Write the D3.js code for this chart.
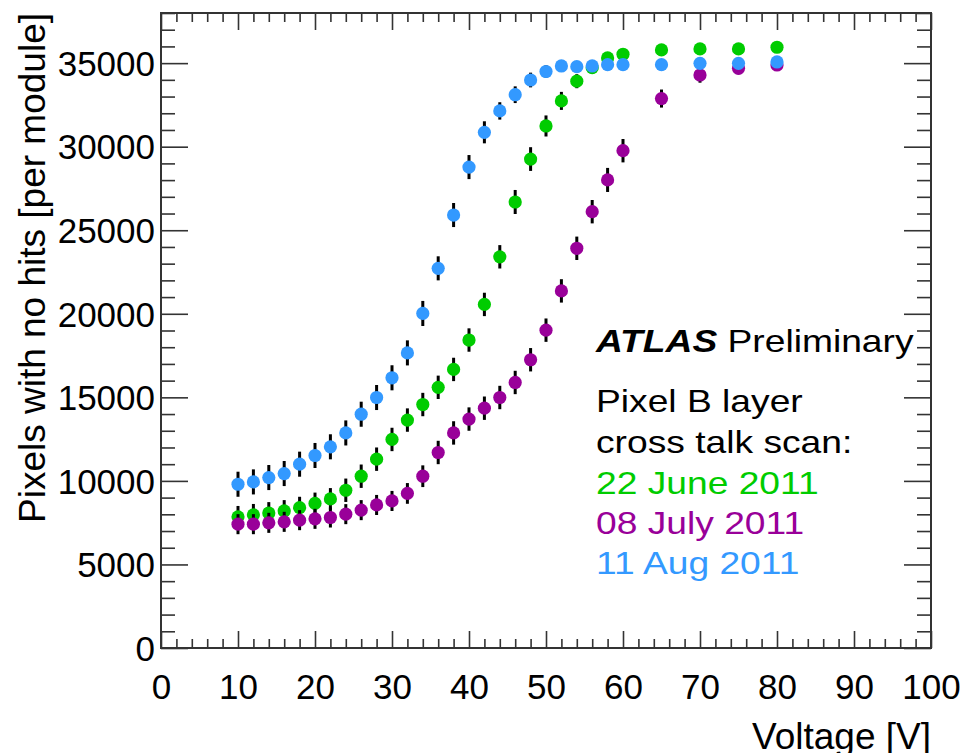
<!DOCTYPE html>
<html>
<head>
<meta charset="utf-8">
<script src="https://cdn.jsdelivr.net/npm/d3@7"></script>
<style>
  body { margin: 0; background: #fff; }
  svg { display: block; font-family: "Liberation Sans", Arial, sans-serif; }
</style>
</head>
<body>
<svg id="chart"></svg>
<script>
// voltages of the scan points
var voltages = [10, 12, 14, 16, 18, 20, 22, 24, 26, 28, 30, 32, 34, 36, 38, 40, 42, 44, 46, 48, 50, 52, 54, 56, 58, 60, 65, 70, 75, 80];

// 22 June 2011
var june = [7850, 7970, 8080, 8200, 8400, 8650, 8920, 9440, 10280, 11300, 12480, 13640, 14570, 15600, 16670, 18430, 20560, 23410, 26690, 29260, 31240, 32740, 33920, 34730, 35310, 35530, 35790, 35850, 35850, 35950];
var juneErr = [650, 650, 650, 650, 650, 650, 650, 700, 700, 700, 700, 700, 700, 700, 700, 700, 700, 700, 720, 710, 630, 540, 420, 350, 300, 300, 300, 300, 300, 300];

// 08 July 2011
var july = [7410, 7410, 7490, 7550, 7650, 7730, 7810, 8010, 8250, 8560, 8800, 9250, 10280, 11700, 12870, 13700, 14350, 14990, 15890, 17250, 19020, 21370, 23920, 26110, 28010, 29760, 32880, 34290, 34690, 34890];
var julyErr = [600, 600, 600, 600, 600, 600, 600, 600, 600, 600, 600, 620, 650, 700, 700, 700, 700, 700, 700, 700, 700, 700, 700, 700, 720, 700, 540, 460, 350, 300];

// 11 Aug 2011
var aug = [9800, 9940, 10200, 10440, 11000, 11520, 12040, 12870, 13990, 14990, 16170, 17660, 20020, 22720, 25910, 28780, 30860, 32140, 33110, 33990, 34500, 34830, 34790, 34830, 34910, 34910, 34910, 34990, 34990, 35070];
var augErr = [750, 750, 750, 750, 750, 750, 750, 750, 750, 750, 750, 750, 750, 720, 720, 720, 660, 520, 500, 440, 380, 300, 300, 300, 300, 300, 300, 300, 300, 300];

var seriesNames = ["22 June 2011", "08 July 2011", "11 Aug 2011"];
var seriesColors = ["#00cc00", "#990099", "#3399ff"];

var xMajor = [0, 10, 20, 30, 40, 50, 60, 70, 80, 90, 100];
var yMajor = [0, 5000, 10000, 15000, 20000, 25000, 30000, 35000];

var W = 966, H = 753;
var frame = { left: 161, right: 931, top: 13, bottom: 648 };

var svg = d3.select("#chart").attr("width", W).attr("height", H);

var x = d3.scaleLinear().domain([0, 100]).range([frame.left, frame.right]);
var y = d3.scaleLinear().domain([0, 38000]).range([frame.bottom, frame.top]);

var xMinor = d3.range(0, 101, 2).filter(function (d) { return d % 10 !== 0; });
var yMinor = d3.range(0, 38001, 1000).filter(function (d) { return d % 5000 !== 0; });

var tickColor = "#333";

function styleAxis(g) {
	g.select(".domain").remove();
	g.selectAll(".tick line").attr("stroke", tickColor).attr("stroke-width", 1.6);
	g.selectAll("text").attr("fill", "#000").attr("font-size", 35)
		.attr("font-family", "Liberation Sans, Arial, sans-serif");
}

// bottom axis (ticks inward)
svg.append("g").attr("transform", "translate(0," + frame.bottom + ")")
	.call(d3.axisBottom(x).tickValues(xMajor).tickSize(-17).tickPadding(26).tickFormat(d3.format("d")))
	.call(styleAxis);
svg.append("g").attr("transform", "translate(0," + frame.bottom + ")")
	.call(d3.axisBottom(x).tickValues(xMinor).tickSize(-9).tickFormat(""))
	.call(styleAxis);
// top axis
svg.append("g").attr("transform", "translate(0," + frame.top + ")")
	.call(d3.axisTop(x).tickValues(xMajor).tickSize(-17).tickFormat(""))
	.call(styleAxis);
svg.append("g").attr("transform", "translate(0," + frame.top + ")")
	.call(d3.axisTop(x).tickValues(xMinor).tickSize(-9).tickFormat(""))
	.call(styleAxis);
// left axis
svg.append("g").attr("transform", "translate(" + frame.left + ",0)")
	.call(d3.axisLeft(y).tickValues(yMajor).tickSize(-27).tickFormat(d3.format("d")))
	.call(styleAxis)
	.selectAll("text").attr("x", -6).attr("dy", "0.35em");
svg.append("g").attr("transform", "translate(" + frame.left + ",0)")
	.call(d3.axisLeft(y).tickValues(yMinor).tickSize(-14).tickFormat(""))
	.call(styleAxis);
// right axis
svg.append("g").attr("transform", "translate(" + frame.right + ",0)")
	.call(d3.axisRight(y).tickValues(yMajor).tickSize(-27).tickFormat(""))
	.call(styleAxis);
svg.append("g").attr("transform", "translate(" + frame.right + ",0)")
	.call(d3.axisRight(y).tickValues(yMinor).tickSize(-14).tickFormat(""))
	.call(styleAxis);

// frame
svg.append("rect")
	.attr("x", frame.left).attr("y", frame.top)
	.attr("width", frame.right - frame.left).attr("height", frame.bottom - frame.top)
	.attr("fill", "none").attr("stroke", tickColor).attr("stroke-width", 2);

// data: error bars then markers, one series after another
var allSeries = [june, july, aug];
var allErrs = [juneErr, julyErr, augErr];

allSeries.forEach(function (vals, s) {
	var pts = voltages.map(function (v, i) {
		return { v: v, n: vals[i], e: allErrs[s][i] };
	});
	var g = svg.append("g").attr("class", "series");
	g.selectAll(".err")
		.data(pts)
		.enter().append("line")
		.attr("class", "err")
		.attr("x1", function (d) { return x(d.v); })
		.attr("x2", function (d) { return x(d.v); })
		.attr("y1", function (d) { return y(d.n - d.e); })
		.attr("y2", function (d) { return y(d.n + d.e); })
		.attr("stroke", "#000")
		.attr("stroke-width", 3);
	g.selectAll(".dot")
		.data(pts)
		.enter().append("circle")
		.attr("class", "dot")
		.attr("cx", function (d) { return x(d.v); })
		.attr("cy", function (d) { return y(d.n); })
		.attr("r", 6.6)
		.attr("fill", seriesColors[s]);
});

// axis titles
svg.append("text")
	.attr("x", frame.right).attr("y", 749)
	.attr("text-anchor", "end")
	.attr("font-size", 37)
	.text("Voltage [V]");

svg.append("text")
	.attr("transform", "translate(45," + frame.top + ") rotate(-90)")
	.attr("text-anchor", "end")
	.attr("font-size", 37)
	.text("Pixels with no hits [per module]");

// labels
var lab = svg.append("g").attr("font-size", 31);
var atlas = lab.append("text").attr("transform", "translate(596,352) scale(1.2,1)");
atlas.append("tspan").attr("font-weight", "bold").attr("font-style", "italic").text("ATLAS");
atlas.append("tspan").text(" Preliminary");

var lines = ["Pixel B layer", "cross talk scan:"];
lines.forEach(function (t, i) {
	lab.append("text")
		.attr("transform", "translate(596," + (412 + i * 41) + ") scale(1.2,1)")
		.text(t);
});
seriesNames.forEach(function (t, i) {
	lab.append("text")
		.attr("transform", "translate(596," + (494 + i * 40) + ") scale(1.2,1)")
		.attr("fill", seriesColors[i])
		.text(t);
});
</script>
</body>
</html>
